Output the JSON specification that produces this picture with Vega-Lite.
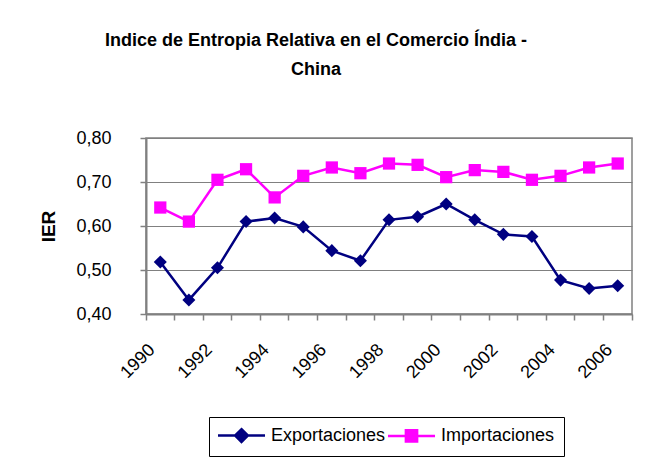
{
  "$schema": "https://vega.github.io/schema/vega-lite/v6.json",
  "autosize": {"type": "none"},
  "width": 486,
  "height": 176,
  "padding": {"left": 146, "top": 138, "right": 21, "bottom": 151},
  "background": "white",
  "config": {
    "font": "Liberation Sans",
    "view": {"stroke": "#808080", "strokeWidth": 1.5}
  },
  "title": {
    "text": ["Indice de Entropia Relativa en el Comercio Índia -", "China"],
    "fontSize": 18,
    "fontWeight": "bold",
    "font": "Liberation Sans",
    "color": "#000000",
    "anchor": "middle",
    "frame": "group",
    "baseline": "alphabetic",
    "lineHeight": 29,
    "offset": 36,
    "dx": -73
  },
  "data": {
    "values": [
      {"year": 1990, "serie": "Exportaciones", "value": 0.518},
      {"year": 1991, "serie": "Exportaciones", "value": 0.432},
      {"year": 1992, "serie": "Exportaciones", "value": 0.505},
      {"year": 1993, "serie": "Exportaciones", "value": 0.610},
      {"year": 1994, "serie": "Exportaciones", "value": 0.618},
      {"year": 1995, "serie": "Exportaciones", "value": 0.598},
      {"year": 1996, "serie": "Exportaciones", "value": 0.544},
      {"year": 1997, "serie": "Exportaciones", "value": 0.521},
      {"year": 1998, "serie": "Exportaciones", "value": 0.614},
      {"year": 1999, "serie": "Exportaciones", "value": 0.621},
      {"year": 2000, "serie": "Exportaciones", "value": 0.650},
      {"year": 2001, "serie": "Exportaciones", "value": 0.614},
      {"year": 2002, "serie": "Exportaciones", "value": 0.581},
      {"year": 2003, "serie": "Exportaciones", "value": 0.576},
      {"year": 2004, "serie": "Exportaciones", "value": 0.477},
      {"year": 2005, "serie": "Exportaciones", "value": 0.458},
      {"year": 2006, "serie": "Exportaciones", "value": 0.464},
      {"year": 1990, "serie": "Importaciones", "value": 0.642},
      {"year": 1991, "serie": "Importaciones", "value": 0.610},
      {"year": 1992, "serie": "Importaciones", "value": 0.705},
      {"year": 1993, "serie": "Importaciones", "value": 0.729},
      {"year": 1994, "serie": "Importaciones", "value": 0.665},
      {"year": 1995, "serie": "Importaciones", "value": 0.714},
      {"year": 1996, "serie": "Importaciones", "value": 0.733},
      {"year": 1997, "serie": "Importaciones", "value": 0.720},
      {"year": 1998, "serie": "Importaciones", "value": 0.742},
      {"year": 1999, "serie": "Importaciones", "value": 0.739},
      {"year": 2000, "serie": "Importaciones", "value": 0.711},
      {"year": 2001, "serie": "Importaciones", "value": 0.727},
      {"year": 2002, "serie": "Importaciones", "value": 0.723},
      {"year": 2003, "serie": "Importaciones", "value": 0.705},
      {"year": 2004, "serie": "Importaciones", "value": 0.714},
      {"year": 2005, "serie": "Importaciones", "value": 0.733},
      {"year": 2006, "serie": "Importaciones", "value": 0.742}
    ]
  },
  "encoding": {
    "x": {
      "field": "year",
      "type": "ordinal",
      "scale": {"type": "band", "paddingInner": 0, "paddingOuter": 0},
      "axis": {
        "title": null,
        "bandPosition": 1,
        "tickExtra": true,
        "labelExpr": "datum.value % 2 == 0 ? datum.label : ''",
        "labelAngle": -45,
        "labelAlign": "right",
        "labelBaseline": "middle",
        "labelOffset": -8,
        "labelPadding": 27,
        "labelFontSize": 18,
        "labelColor": "#000000",
        "labelFlush": false,
        "labelOverlap": false,
        "tickSize": 6,
        "tickColor": "#808080",
        "tickWidth": 1.5,
        "domainColor": "#808080",
        "domainWidth": 2,
        "grid": false
      }
    },
    "y": {
      "field": "value",
      "type": "quantitative",
      "scale": {"domain": [0.4, 0.8], "zero": false, "nice": false},
      "axis": {
        "title": "IER",
        "titleFontSize": 19,
        "titleFontWeight": "bold",
        "titleColor": "#000000",
        "titleAngle": 270,
        "titleX": -98,
        "titleY": 88,
        "titleAlign": "center",
        "titleBaseline": "middle",
        "values": [0.4, 0.5, 0.6, 0.7, 0.8],
        "labelExpr": "replace(format(datum.value, '.2f'), '.', ',')",
        "labelFontSize": 18,
        "labelColor": "#000000",
        "labelPadding": 29,
        "labelFlush": false,
        "tickSize": 6,
        "tickColor": "#808080",
        "tickWidth": 1.5,
        "domainColor": "#808080",
        "domainWidth": 2,
        "grid": true,
        "gridColor": "#808080",
        "gridWidth": 1
      }
    },
    "color": {
      "field": "serie",
      "type": "nominal",
      "scale": {"domain": ["Exportaciones", "Importaciones"], "range": ["#000080", "#FF00FF"]},
      "legend": {
        "title": null,
        "orient": "none",
        "direction": "horizontal",
        "legendX": 63,
        "legendY": 279,
        "strokeColor": "#000000",
        "fillColor": "white",
        "padding": 9,
        "symbolSize": 256,
        "symbolStrokeWidth": 2.5,
        "labelFontSize": 18,
        "labelColor": "#000000",
        "labelOffset": 34,
        "columnPadding": -4,
        "encode": {
          "symbols": {
            "update": {
              "shape": {"signal": "datum.value == 'Exportaciones' ? 'M-2.94,0H2.94M0,-0.8L0.8,0L0,0.8L-0.8,0Z' : 'M-2.94,0H2.94M-0.7,-0.7H0.7V0.7H-0.7Z'"},
              "x": {"value": 23.5},
              "fill": {"scale": "color", "field": "value"},
              "stroke": {"scale": "color", "field": "value"},
              "strokeWidth": {"value": 2.5},
              "opacity": {"value": 1}
            }
          }
        }
      }
    }
  },
  "layer": [
    {"mark": {"type": "line", "strokeWidth": 2.5}},
    {
      "transform": [{"filter": "datum.serie == 'Exportaciones'"}],
      "mark": {"type": "point", "shape": "diamond", "filled": true, "size": 170, "opacity": 1}
    },
    {
      "transform": [{"filter": "datum.serie == 'Importaciones'"}],
      "mark": {"type": "point", "shape": "square", "filled": true, "size": 150, "opacity": 1}
    }
  ]
}
